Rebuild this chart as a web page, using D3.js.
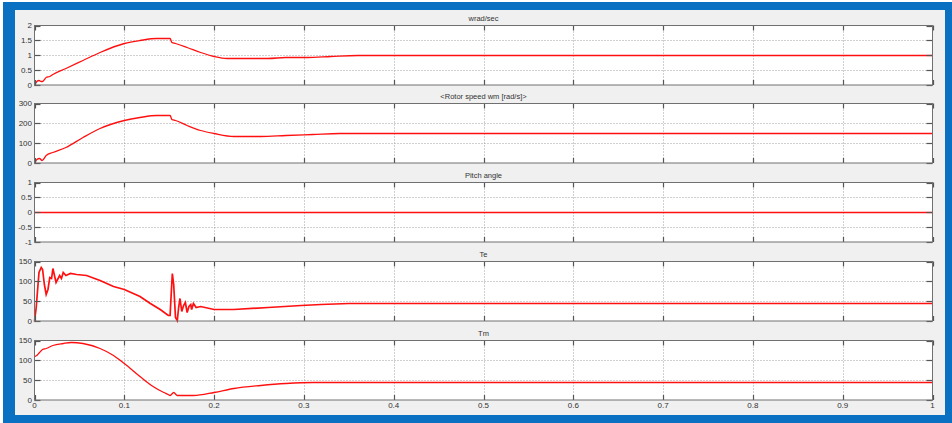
<!DOCTYPE html>
<html><head><meta charset="utf-8">
<script src="https://cdn.jsdelivr.net/npm/d3@7"></script>
<style>
html,body{margin:0;padding:0;background:#fff;}
svg{display:block;}
text{font-family:"Liberation Sans",Arial,sans-serif;}
</style></head>
<body>
<script>
// ---------- data ----------
const panelTitles = ["wrad/sec", "<Rotor speed wm [rad/s]>", "Pitch angle", "Te", "Tm"];
const xTicks = [0, 0.1, 0.2, 0.3, 0.4, 0.5, 0.6, 0.7, 0.8, 0.9, 1];
const xTickLabels = ["0", "0.1", "0.2", "0.3", "0.4", "0.5", "0.6", "0.7", "0.8", "0.9", "1"];
const yDomains = [[0, 2], [0, 300], [-1, 1], [0, 150], [0, 150]];
const yTicks = [[0, 0.5, 1, 1.5, 2], [0, 100, 200, 300], [-1, -0.5, 0, 0.5, 1], [0, 50, 100, 150], [0, 50, 100, 150]];

const wradData = [[0,0],[0.0026,0.12],[0.005,0.15],[0.0075,0.11],[0.009,0.12],[0.013,0.24],[0.017,0.29],
  [0.0205,0.35],[0.035,0.57],[0.054,0.82],[0.073,1.10],[0.1,1.38],[0.1175,1.49],[0.136,1.56],[0.151,1.56],
  [0.153,1.42],[0.157,1.38],[0.17,1.25],[0.185,1.08],[0.2,0.97],[0.2145,0.90],[0.23,0.88],[0.26,0.88],
  [0.28,0.91],[0.304,0.93],[0.33,0.97],[0.36,0.99],[0.4,1.0],[1,1.0]];
const rotorData = [[0,0],[0.0026,20],[0.0056,23],[0.0085,15],[0.013,38],[0.0205,55],[0.035,80],[0.054,130],
  [0.073,172],[0.1,213],[0.1175,230],[0.136,238],[0.151,238],[0.153,218],[0.157,213],[0.17,188],[0.185,163],
  [0.2,147],[0.222,135],[0.252,133],[0.28,138],[0.31,145],[0.34,149],[0.4,150],[1,150]];
const pitchData = [[0,0],[1,0]];
const teData = [[0,0],[0.0019,34],[0.005,122],[0.0075,135],[0.009,131],[0.011,93],[0.013,67],[0.015,80],
  [0.017,110],[0.019,106],[0.0205,133],[0.022,118],[0.024,97],[0.028,114],[0.030,108],[0.032,122],[0.035,114],
  [0.04,120],[0.047,117],[0.058,114],[0.073,103],[0.088,88],[0.1,80],[0.1175,63],[0.129,43],[0.14,30],[0.149,15],
  [0.151,13],[0.1525,80],[0.1535,120],[0.155,93],[0.157,8],[0.159,2],[0.1605,34],[0.162,57],[0.164,25],
  [0.166,38],[0.168,46],[0.17,21],[0.172,36],[0.174,42],[0.175,29],[0.177,44],[0.18,33],[0.185,36],
  [0.2,30],[0.222,30],[0.26,34],[0.297,38],[0.319,41],[0.35,43],[1,43]];
const tmData = [[0,110],[0.0026,113],[0.0056,121],[0.009,127],[0.013,129],[0.0205,137],[0.032,142],[0.041,144],
  [0.054,142],[0.073,129],[0.088,112],[0.1,92],[0.1175,60],[0.132,35],[0.144,18],[0.149,14],[0.151,12.6],
  [0.155,18],[0.159,12.6],[0.166,11],[0.177,12.6],[0.2,20],[0.222,28.5],[0.252,37],[0.28,41],[0.31,43],
  [0.34,43],[1,43]];
const seriesList = [wradData, rotorData, pitchData, teData, tmData];

// ---------- layout ----------
const W = 952, H = 423;
const left = 34.5, right = 932.5;
const panelTop0 = 24.5, panelStep = 78.75, panelH = 59.5;

const svg = d3.select("body").append("svg").attr("width", W).attr("height", H);
svg.append("rect").attr("x", 0).attr("y", 0).attr("width", W).attr("height", H).attr("fill", "#ffffff");
svg.append("rect").attr("x", 3).attr("y", 2).attr("width", W - 3).attr("height", H - 2).attr("fill", "#0a70c2");
svg.append("rect").attr("x", 15).attr("y", 10).attr("width", 930).attr("height", 405).attr("fill", "#f0f0f0");

const x = d3.scaleLinear().domain([0, 1]).range([left, right]);

seriesList.forEach((data, i) => {
  const top = Math.round(panelTop0 + i * panelStep) + 0.5;
  const bottom = top + panelH;
  const y = d3.scaleLinear().domain(yDomains[i]).range([bottom, top]);
  const g = svg.append("g");

  g.append("rect").attr("x", left).attr("y", top).attr("width", right - left).attr("height", panelH)
    .attr("fill", "#ffffff");

  // grid
  g.selectAll(".vg").data(xTicks.slice(1, -1)).enter().append("line")
    .attr("x1", d => Math.round(x(d)) + 0.5).attr("x2", d => Math.round(x(d)) + 0.5)
    .attr("y1", top).attr("y2", bottom)
    .attr("stroke", "#a0a0a0").attr("stroke-width", 1).attr("stroke-dasharray", "1,2");
  g.selectAll(".hg").data(yTicks[i].slice(1, -1)).enter().append("line")
    .attr("x1", left).attr("x2", right)
    .attr("y1", d => Math.round(y(d)) + 0.5).attr("y2", d => Math.round(y(d)) + 0.5)
    .attr("stroke", "#a0a0a0").attr("stroke-width", 1).attr("stroke-dasharray", "1,2");

  // series
  const line = d3.line().x(d => x(d[0])).y(d => Math.round(y(d[1]) - 0.5) + 0.5)
    .curve(i === 3 ? d3.curveLinear : d3.curveMonotoneX);
  g.append("path").datum(data).attr("d", line).attr("fill", "none")
    .attr("stroke", "#ff1010").attr("stroke-width", i === 3 ? 1.7 : 1.3);

  // ticks (inward)
  const tickCol = "#555";
  xTicks.forEach(d => {
    const xx = Math.round(x(d)) + 0.5;
    g.append("line").attr("x1", xx).attr("x2", xx).attr("y1", top).attr("y2", top + 5)
      .attr("stroke", tickCol).attr("stroke-width", 1.2);
    g.append("line").attr("x1", xx).attr("x2", xx).attr("y1", bottom).attr("y2", bottom - 5)
      .attr("stroke", tickCol).attr("stroke-width", 1.2);
  });
  yTicks[i].forEach(d => {
    const yy = Math.round(y(d)) + 0.5;
    g.append("line").attr("x1", left).attr("x2", left + 6).attr("y1", yy).attr("y2", yy)
      .attr("stroke", tickCol).attr("stroke-width", 1.2);
    g.append("line").attr("x1", right).attr("x2", right - 6).attr("y1", yy).attr("y2", yy)
      .attr("stroke", tickCol).attr("stroke-width", 1.2);
  });

  // frame
  g.append("rect").attr("x", left).attr("y", top).attr("width", right - left).attr("height", panelH)
    .attr("fill", "none").attr("stroke", "#707070").attr("stroke-width", 1);

  // y labels
  g.selectAll(".yl").data(yTicks[i]).enter().append("text")
    .attr("x", left - 2.5).attr("y", d => y(d)).attr("dy", "0.35em")
    .attr("text-anchor", "end").attr("font-size", 8).attr("fill", "#333")
    .text(d => String(d));

  // title
  g.append("text").attr("x", (left + right) / 2).attr("y", top - 7).attr("dy", "0.35em")
    .attr("text-anchor", "middle").attr("font-size", 7.5).attr("fill", "#333")
    .text(panelTitles[i]);

  if (i === seriesList.length - 1) {
    g.selectAll(".xl").data(xTicks).enter().append("text")
      .attr("x", d => x(d)).attr("y", bottom + 5.5).attr("dy", "0.35em")
      .attr("text-anchor", "middle").attr("font-size", 8).attr("fill", "#333")
      .text((d, k) => xTickLabels[k]);
  }
});
</script>
</body></html>
